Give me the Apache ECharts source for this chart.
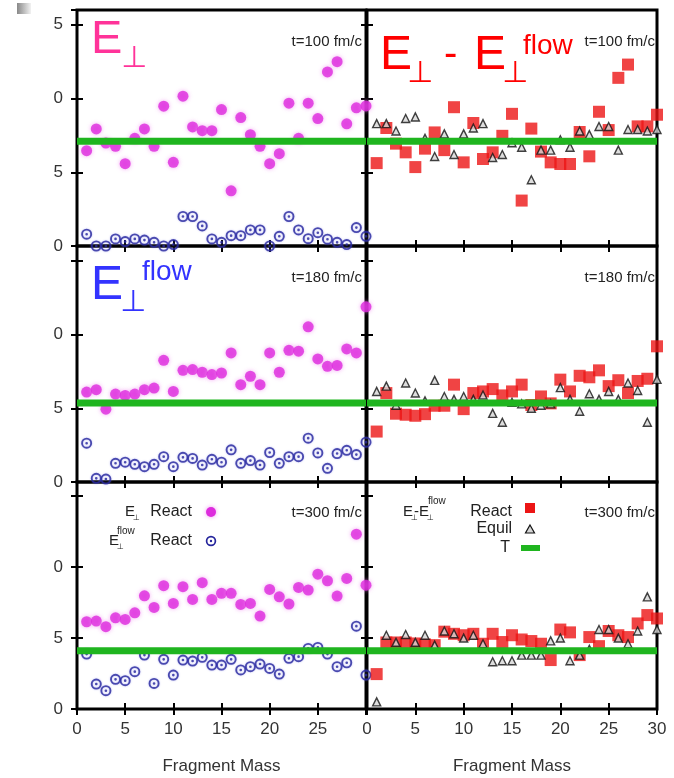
<!DOCTYPE html>
<html>
<head>
<meta charset="utf-8">
<title>E perp vs fragment mass</title>
<script src="https://cdn.jsdelivr.net/npm/echarts@6/dist/echarts.min.js"></script>
<style>
  html, body { margin: 0; padding: 0; background: #fff; }
  #chart { width: 674px; height: 778px; }
</style>
</head>
<body>
<div id="chart"></div>
<script>
// 碎片质量
const masses = [1, 2, 3, 4, 5, 6, 7, 8, 9, 10, 11, 12, 13, 14, 15, 16, 17, 18, 19, 20, 21, 22, 23, 24, 25, 26, 27, 28, 29, 30];
const timeLabels = ['t=100 fm/c', 't=180 fm/c', 't=300 fm/c'];
const tempLevels = [7.1, 5.35, 4.1];

// t = 100 fm/c
const react100 = [6.46, 7.94, 6.98, 6.76, 5.58, 7.3, 7.94, 6.76, 9.48, 5.67, 10.16, 8.07, 7.82, 7.82, 9.25, 3.74, 8.71, 7.55, 6.76, 5.58, 6.26, 9.68, 7.3, 9.68, 8.64, 11.8, 12.5, 8.28, 9.37, 9.5];
const flow100 = [0.8, 0.0, 0.0, 0.48, 0.3, 0.48, 0.4, 0.25, 0.0, 0.1, 2.0, 2.0, 1.36, 0.48, 0.25, 0.7, 0.7, 1.09, 1.09, 0.0, 0.66, 2.0, 1.09, 0.5, 0.9, 0.46, 0.25, 0.1, 1.25, 0.66];
const diff100 = [5.62, 8.0, 6.94, 6.35, 5.35, 6.6, 7.7, 6.5, 9.41, 5.67, 8.34, 5.9, 6.35, 7.47, 8.96, 3.08, 7.96, 6.4, 5.67, 5.56, 5.56, 7.73, 6.08, 9.1, 7.86, 11.4, 12.3, 8.11, 8.11, 8.9];
const equil100 = [8.3, 8.3, 7.8, 8.64, 8.75, 7.3, 6.07, 7.6, 6.2, 7.6, 8.0, 8.3, 6.0, 6.2, 7.0, 6.7, 4.49, 6.5, 6.5, 7.2, 6.7, 7.8, 7.55, 8.1, 8.1, 6.5, 7.9, 7.9, 7.8, 7.9];

// t = 180 fm/c
const react180 = [6.1, 6.26, 4.94, 5.96, 5.87, 5.96, 6.26, 6.37, 8.25, 6.14, 7.57, 7.62, 7.44, 7.28, 7.39, 8.75, 6.6, 7.17, 6.6, 8.75, 7.44, 8.93, 8.87, 10.52, 8.34, 7.84, 7.9, 9.02, 8.75, 11.88];
const flow180 = [2.63, 0.25, 0.2, 1.27, 1.34, 1.2, 1.04, 1.2, 1.72, 1.04, 1.67, 1.6, 1.15, 1.54, 1.34, 2.18, 1.27, 1.45, 1.15, 2.0, 1.27, 1.72, 1.72, 2.97, 1.97, 0.93, 1.93, 2.15, 1.86, 2.7];
const diff180 = [3.42, 6.03, 4.63, 4.56, 4.49, 4.6, 5.17, 5.17, 6.6, 4.94, 6.03, 6.14, 6.3, 5.87, 6.14, 6.6, 5.22, 5.8, 5.33, 6.94, 6.14, 7.2, 7.1, 7.57, 6.5, 6.9, 6.03, 6.85, 7.0, 9.2];
const equil180 = [6.14, 6.5, 5.2, 6.71, 6.03, 5.5, 6.89, 5.8, 5.6, 5.8, 5.6, 5.9, 4.65, 4.05, 5.4, 5.3, 5.0, 5.2, 5.3, 6.4, 5.6, 4.8, 5.98, 5.6, 6.14, 5.6, 6.71, 6.2, 4.05, 6.96];

// t = 300 fm/c
const react300 = [6.15, 6.2, 5.8, 6.43, 6.31, 6.78, 7.98, 7.16, 8.69, 7.44, 8.62, 7.72, 8.9, 7.72, 8.15, 8.15, 7.37, 7.44, 6.55, 8.43, 7.91, 7.4, 8.57, 8.38, 9.5, 9.04, 7.96, 9.2, 12.32, 8.73];
const flow300 = [3.87, 1.76, 1.29, 2.09, 2.0, 2.63, 3.8, 1.8, 3.5, 2.39, 3.45, 3.38, 3.64, 3.1, 3.1, 3.5, 2.75, 2.98, 3.17, 2.86, 2.46, 3.57, 3.69, 4.27, 4.34, 3.87, 2.98, 3.26, 5.84, 2.39];
const diff300 = [2.46, 4.69, 4.69, 4.69, 4.62, 4.55, 4.5, 5.45, 5.3, 5.2, 5.3, 4.6, 5.3, 4.72, 5.2, 4.9, 4.79, 4.6, 3.45, 5.6, 5.4, 3.8, 5.07, 4.43, 5.5, 5.2, 5.07, 6.03, 6.62, 6.38];
const equil300 = [0.5, 5.2, 4.7, 5.25, 4.7, 5.2, 4.5, 5.5, 5.3, 5.0, 5.2, 4.6, 3.33, 3.4, 3.4, 3.8, 3.8, 3.8, 4.8, 5.0, 3.4, 3.8, 4.2, 5.6, 5.6, 5.0, 4.6, 5.5, 7.9, 5.6];

const reactRows = [react100, react180, react300];
const flowRows = [flow100, flow180, flow300];
const diffRows = [diff100, diff180, diff300];
const equilRows = [equil100, equil180, equil300];

const FONT = 'Liberation Sans';
const ringPath = 'path://M0,-10 A10,10 0 1,1 0,10 A10,10 0 1,1 0,-10 Z M0,-6.6 A6.6,6.6 0 1,0 0,6.6 A6.6,6.6 0 1,0 0,-6.6 Z M0,-2.4 A2.4,2.4 0 1,1 0,2.4 A2.4,2.4 0 1,1 0,-2.4 Z';

const rowBoxes = [
	{ top: 10, height: 236 },
	{ top: 246, height: 236 },
	{ top: 482, height: 227 }
];
const colBoxes = [
	{ left: 77, width: 289 },
	{ left: 367, width: 290 }
];

const pairs = (ys) => masses.map((m, i) => [m, ys[i]]);

const grid = [];
const xAxis = [];
const yAxis = [];
const series = [];

rowBoxes.forEach(function (row, r) {
	colBoxes.forEach(function (col, c) {
		const g = grid.length;
		grid.push({
			left: col.left, width: col.width, top: row.top, height: row.height,
			show: true, borderColor: '#000', borderWidth: 3, backgroundColor: 'transparent'
		});
		const tick = { show: true, inside: true, length: 6, lineStyle: { color: '#000', width: 2 } };
		const isBottom = r === 2;
		xAxis.push({
			type: 'value', gridIndex: g, min: 0, max: 30, interval: 5, position: 'bottom',
			axisLine: { show: false }, axisTick: tick, splitLine: { show: false },
			axisLabel: {
				show: isBottom, margin: 12, color: '#333', fontFamily: FONT, fontSize: 17,
				showMaxLabel: c === 1
			},
			name: isBottom ? 'Fragment Mass' : '', nameLocation: 'middle', nameGap: 49,
			nameTextStyle: { color: '#333', fontFamily: FONT, fontSize: 17 }
		});
		xAxis.push({
			type: 'value', gridIndex: g, min: 0, max: 30, interval: 5, position: 'top',
			axisLine: { show: false }, axisTick: tick, splitLine: { show: false },
			axisLabel: { show: false }
		});
		yAxis.push({
			type: 'value', gridIndex: g, min: 0, max: 16, interval: 5, position: 'left',
			axisLine: { show: false }, axisTick: tick, splitLine: { show: false },
			axisLabel: {
				show: c === 0, margin: 14, color: '#333', fontFamily: FONT, fontSize: 17,
				formatter: function (v) {
					if (v > 15 || (r > 0 && v > 10)) return '';
					return String(v).slice(-1);
				}
			}
		});
		yAxis.push({
			type: 'value', gridIndex: g, min: 0, max: 16, interval: 5, position: 'right',
			axisLine: { show: false }, axisTick: tick, splitLine: { show: false },
			axisLabel: { show: false }
		});

		const ax = { xAxisIndex: 2 * g, yAxisIndex: 2 * g };
		if (c === 0) {
			series.push(Object.assign({
				name: 'E React', type: 'scatter', data: pairs(reactRows[r]),
				symbol: 'circle', symbolSize: 11,
				itemStyle: { color: '#dd2bdd', shadowBlur: 4, shadowColor: 'rgba(240,120,240,0.8)' }
			}, ax));
			series.push(Object.assign({
				name: 'E flow React', type: 'scatter', data: pairs(flowRows[r]),
				symbol: ringPath, symbolSize: 11,
				itemStyle: { color: '#26269c', shadowBlur: 2, shadowColor: 'rgba(120,120,230,0.6)' }
			}, ax));
		} else {
			series.push(Object.assign({
				name: 'E-Eflow React', type: 'scatter', data: pairs(diffRows[r]),
				symbol: 'rect', symbolSize: 12,
				itemStyle: { color: '#ec1515' }
			}, ax));
			series.push(Object.assign({
				name: 'Equil', type: 'scatter', data: pairs(equilRows[r]),
				symbol: 'triangle', symbolSize: 8,
				itemStyle: { color: '#d6d6d6', borderColor: '#111', borderWidth: 1.4 }
			}, ax));
		}
		// 温度 T
		series.push(Object.assign({
			name: 'T', type: 'line', data: [[0, tempLevels[r]], [30, tempLevels[r]]],
			symbol: 'none', z: 5, silent: true,
			lineStyle: { color: '#1fb51f', width: 7 }
		}, ax));
	});
});

const txt = (x, y, text, size, color, align) => ({
	type: 'text', x: x, y: y, z: 100,
	style: { text: text, fill: color, font: size + 'px "' + FONT + '", "DejaVu Sans", sans-serif', align: align || 'left', verticalAlign: 'middle' }
});

const graphic = [
	// 左上角的灰块
	{ type: 'rect', shape: { x: 17, y: 3, width: 14, height: 11 }, z: 100,
	  style: { fill: new echarts.graphic.LinearGradient(0, 0, 1, 0, [{ offset: 0, color: '#888' }, { offset: 1, color: '#f2f2f2' }]) } },

	// 大标题
	txt(91, 40, 'E', 47, '#ff3399'),
	txt(121, 59, '⊥', 30, '#ff3399'),

	txt(380, 56, 'E', 48, '#ff0000'),
	txt(407, 74, '⊥', 30, '#ff0000'),
	txt(444, 55, '-', 40, '#ff0000'),
	txt(474, 56, 'E', 48, '#ff0000'),
	txt(502, 74, '⊥', 30, '#ff0000'),
	txt(523, 46, 'flow', 28, '#ff0000'),

	txt(91, 286, 'E', 48, '#3333ff'),
	txt(120, 303, '⊥', 30, '#3333ff'),
	txt(142, 272, 'flow', 28, '#3333ff'),

	// 时间标注
	txt(362, 42, timeLabels[0], 15, '#222', 'right'),
	txt(655, 42, timeLabels[0], 15, '#222', 'right'),
	txt(362, 278, timeLabels[1], 15, '#222', 'right'),
	txt(655, 278, timeLabels[1], 15, '#222', 'right'),
	txt(362, 513, timeLabels[2], 15, '#222', 'right'),
	txt(655, 513, timeLabels[2], 15, '#222', 'right'),

	// 左下图注
	txt(125, 512, 'E', 15, '#222'),
	txt(133, 518, '⊥', 8, '#222'),
	txt(192, 512, 'React', 16, '#222', 'right'),
	{ type: 'circle', shape: { cx: 211, cy: 512, r: 5 }, z: 100, style: { fill: '#dd2bdd', shadowBlur: 4, shadowColor: 'rgba(240,120,240,0.8)' } },
	txt(109, 541, 'E', 15, '#222'),
	txt(117, 547, '⊥', 8, '#222'),
	txt(117, 531, 'flow', 10, '#222'),
	txt(192, 541, 'React', 16, '#222', 'right'),
	{ type: 'circle', shape: { cx: 211, cy: 541, r: 4.4 }, z: 100, style: { fill: 'none', stroke: '#26269c', lineWidth: 1.7 } },
	{ type: 'circle', shape: { cx: 211, cy: 541, r: 1.2 }, z: 100, style: { fill: '#26269c' } },

	// 右下图注
	txt(403, 512, 'E', 15, '#222'),
	txt(411, 518, '⊥', 8, '#222'),
	txt(414, 512, '-', 15, '#222'),
	txt(419, 512, 'E', 15, '#222'),
	txt(427, 518, '⊥', 8, '#222'),
	txt(428, 501, 'flow', 10, '#222'),
	txt(512, 512, 'React', 16, '#222', 'right'),
	{ type: 'rect', shape: { x: 525, y: 503, width: 10, height: 10 }, z: 100, style: { fill: '#ec1515' } },
	txt(512, 529, 'Equil', 16, '#222', 'right'),
	{ type: 'polygon', shape: { points: [[530, 525], [534.5, 533], [525.5, 533]] }, z: 100, style: { fill: '#d6d6d6', stroke: '#111', lineWidth: 1.2 } },
	txt(510, 548, 'T', 16, '#222', 'right'),
	{ type: 'rect', shape: { x: 521, y: 545, width: 19, height: 6 }, z: 100, style: { fill: '#1fb51f' } }
];

const myChart = echarts.init(document.getElementById('chart'));
myChart.setOption({
	backgroundColor: '#fff',
	animation: false,
	grid: grid,
	xAxis: xAxis,
	yAxis: yAxis,
	series: series,
	graphic: graphic
});
</script>
</body>
</html>
